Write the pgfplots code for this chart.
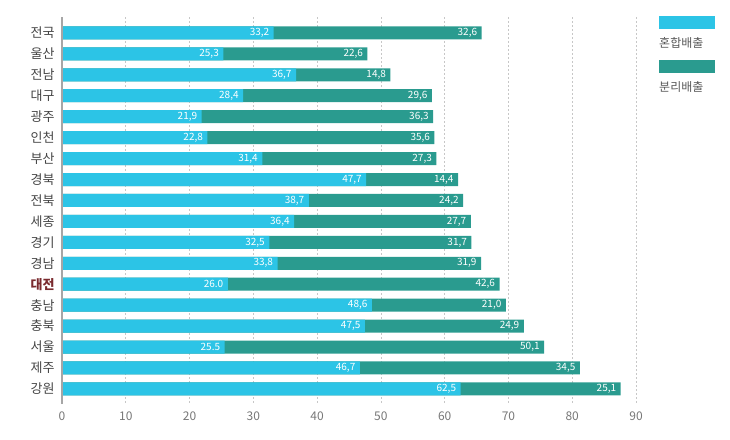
\documentclass[border=0pt]{standalone}
\usepackage{pgfplots}
\usepackage{pgfplotstable}
\pgfplotsset{compat=1.18}
\usepackage{fontspec}
\setmainfont{Noto Sans CJK KR}
\definecolor{mix}{HTML}{2CC4E6}
\definecolor{sep}{HTML}{2A9B8F}
\definecolor{dj}{HTML}{7A2A2E}
\definecolor{lab}{HTML}{444444}
\definecolor{tck}{HTML}{777777}
\pgfplotstableread{
idx a b la lb
0 33.2 32.6 33,2 32,6
1 25.3 22.6 25,3 22,6
2 36.7 14.8 36,7 14,8
3 28.4 29.6 28,4 29,6
4 21.9 36.3 21,9 36,3
5 22.8 35.6 22,8 35,6
6 31.4 27.3 31,4 27,3
7 47.7 14.4 47,7 14,4
8 38.7 24.2 38,7 24,2
9 36.4 27.7 36,4 27,7
10 32.5 31.7 32,5 31,7
11 33.8 31.9 33,8 31,9
12 26.0 42.6 26.0 42,6
13 48.6 21.0 48,6 21,0
14 47.5 24.9 47,5 24,9
15 25.5 50.1 25.5 50,1
16 46.7 34.5 46,7 34,5
17 62.5 25.1 62,5 25,1
}\data
\begin{document}
\begin{tikzpicture}
\path[use as bounding box] (-62pt,-35pt) rectangle (668pt,404pt);
\begin{axis}[
  at={(0,0)}, anchor=south west,
  scale only axis, width=574pt, height=387pt,
  xbar, bar width=13pt, bar shift=0pt,
  xmin=0, xmax=90, ymin=-0.76, ymax=17.72,
  y dir=reverse,
  xtick={0,10,...,90},
  ytick={0,...,17},
  yticklabels={전국,울산,전남,대구,광주,인천,부산,경북,전북,세종,경기,경남,{\textbf{\color{dj}대전}},충남,충북,서울,제주,강원},
  major tick length=0pt,
  axis line style={draw=none},
  xmajorgrids, grid style={draw=black!22, dash pattern=on 2pt off 2pt, line width=0.7pt},
  /pgf/number format/assume math mode=true,
  xticklabel style={font=\fontsize{12}{14}\selectfont, text=tck, yshift=-4pt},
  yticklabel style={font=\fontsize{13}{15}\selectfont, text=lab, xshift=-4pt},
  point meta=explicit symbolic,
  nodes near coords={\pgfplotspointmeta},
  every node near coord/.append style={anchor=east, xshift=-1pt, text=white, font=\fontsize{10}{12}\selectfont},
  clip=false,
]
\addplot[fill=sep, draw=none] table[x expr=\thisrow{a}+\thisrow{b}, y=idx, meta=lb] {\data};
\addplot[fill=mix, draw=none] table[x=a, y=idx, meta=la] {\data};
\draw[black!35, line width=1.6pt] (rel axis cs:0,0) -- (rel axis cs:0,1);
\end{axis}
\fill[mix] (597pt,375pt) rectangle (653pt,388pt);
\node[anchor=west, inner sep=0pt, text=black!65, font=\fontsize{12}{14}\selectfont] at (597pt,361pt) {혼합배출};
\fill[sep] (597pt,331pt) rectangle (653pt,344pt);
\node[anchor=west, inner sep=0pt, text=black!65, font=\fontsize{12}{14}\selectfont] at (597pt,317pt) {분리배출};
\end{tikzpicture}
\end{document}
